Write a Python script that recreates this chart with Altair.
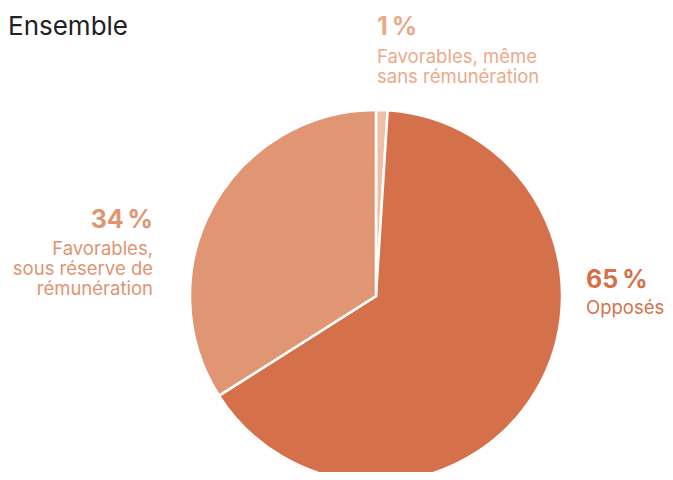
import altair as alt
import pandas as pd

title_text = "Ensemble"
categories = ["Favorables, même sans rémunération", "Opposés", "Favorables, sous réserve de rémunération"]
values = [1, 65, 34]
pct_labels = ["1\u202f%", "65\u202f%", "34\u202f%"]
label_lines = ["Favorables, même\nsans rémunération", "Opposés", "Favorables,\nsous réserve de\nrémunération"]
slice_colors = ["#efbfa5", "#d4714a", "#e09573"]
text_colors = ["#eca98a", "#d4714a", "#e09471"]

# label anchor positions (pixels), alignment
pct_pos = [(369, 27, "left"), (578, 280, "left"), (145, 220, "right")]
lab_pos = [(369, 55), (578, 306), (145, 247)]

df = pd.DataFrame({
    "category": categories,
    "value": values,
    "pct": pct_labels,
    "label": label_lines,
    "order": list(range(len(categories))),
})

base = alt.Chart(df)

pie = base.mark_arc(radius=186, stroke="white", strokeWidth=2.5).encode(
    theta=alt.Theta("value:Q", stack=True),
    order=alt.Order("order:Q"),
    color=alt.Color("category:N", scale=alt.Scale(domain=categories, range=slice_colors), legend=None),
    x=alt.value(368),
    y=alt.value(288),
)

layers = [pie]
for i, cat in enumerate(categories):
    px, py, al = pct_pos[i]
    lx, ly = lab_pos[i]
    layers.append(
        base.transform_filter(alt.datum.category == cat).mark_text(
            font="Inter", fontSize=25, fontWeight="bold", align=al, baseline="alphabetic"
        ).encode(text="pct:N", x=alt.value(px), y=alt.value(py), color=alt.value(text_colors[i]))
    )
    layers.append(
        base.transform_filter(alt.datum.category == cat).mark_text(
            font="Inter", fontSize=18.5, align=al, baseline="alphabetic", lineBreak="\n", lineHeight=20
        ).encode(text="label:N", x=alt.value(lx), y=alt.value(ly), color=alt.value(text_colors[i]))
    )

title = alt.Chart(pd.DataFrame({"t": [title_text]})).mark_text(
    font="Inter", fontSize=26, align="left", baseline="alphabetic", color="#222222"
).encode(text="t:N", x=alt.value(0), y=alt.value(27))
layers.append(title)

chart = alt.layer(*layers).properties(
    width=657, height=464, autosize=alt.AutoSizeParams(type="none"), padding=0
).configure_view(stroke=None)

chart.save("out.html", embed_options={"renderer": "svg", "actions": False})
